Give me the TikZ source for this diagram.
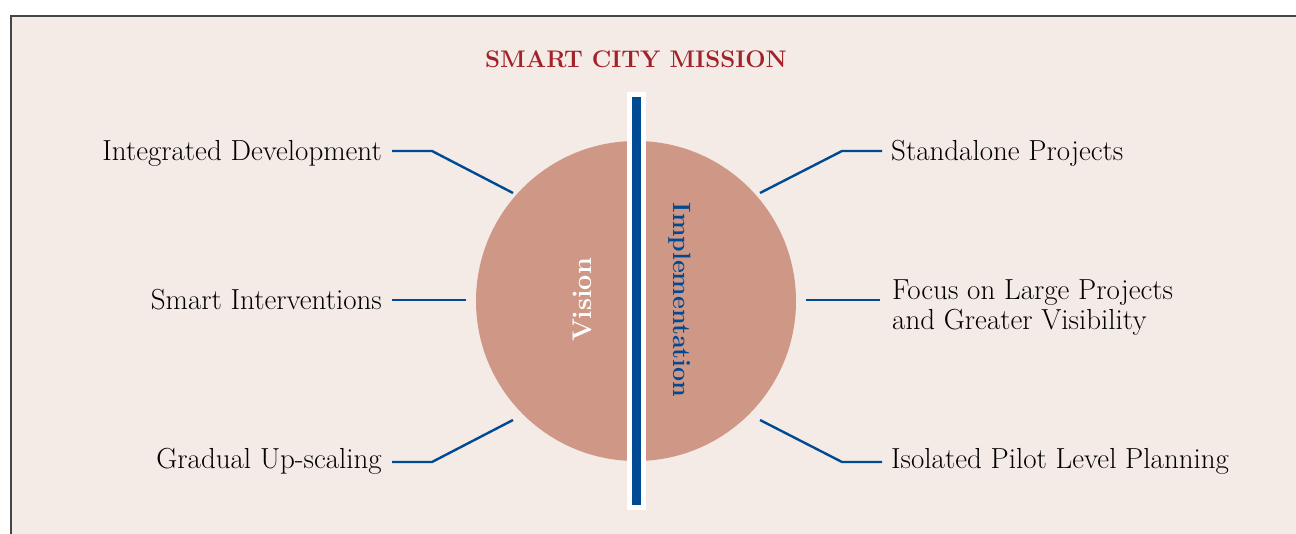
\documentclass[tikz,border=0pt]{standalone}
\usepackage{tikz}
\usetikzlibrary{positioning}

\definecolor{paper}{HTML}{F4EBE6}
\definecolor{discfill}{HTML}{CF9886}
\definecolor{navy}{HTML}{004A94}
\definecolor{brick}{HTML}{A32129}
\definecolor{framegray}{HTML}{454545}

\begin{document}
\begin{tikzpicture}
	[x=1pt,y=-1pt,node distance=10pt,
		label node/.style={inner sep=0pt,font=\fontsize{29}{30}\selectfont},
		one line/.style={text height=20pt,text depth=0pt},
		link/.style={navy,line width=2.4pt,line join=miter},
		side text/.style={inner sep=0pt,font=\bfseries\fontsize{25}{28}\selectfont}]

	\useasboundingbox (0,0) rectangle (1296,534);
	\fill[paper] (11,16) rectangle (1296,534);
	\draw[framegray,line width=2pt] (11,540) -- (11,16) -- (1300,16);

	\node[brick,font=\bfseries\fontsize{24}{27}\selectfont] (title) at (636,59) {SMART CITY MISSION};

	% disc and divider
	\node[circle,fill=discfill,minimum size=320pt,inner sep=0pt] (disc) at (636,301) {};
	\fill[white] (627,92) rectangle (646,510);
	\fill[navy] (632,97) rectangle (641,505);
	\node[side text,white,rotate=90,font=\bfseries\fontsize{27}{30}\selectfont] (vision) at (582,300) {Vision};
	\node[side text,navy,rotate=-90] (impl) at (680,300) {Implementation};

	% connector points
	\coordinate (l1) at (392,151);
	\coordinate (l1b) at (432,151);
	\coordinate (l1c) at (513,193);
	\coordinate (l2) at (392,300);
	\coordinate (l2c) at (466,300);
	\coordinate (l3) at (392,462);
	\coordinate (l3b) at (432,462);
	\coordinate (l3c) at (513,420);
	\coordinate (r1) at (882,151);
	\coordinate (r1b) at (842,151);
	\coordinate (r1c) at (760,193);
	\coordinate (r2) at (880,300);
	\coordinate (r2c) at (806,300);
	\coordinate (r3) at (882,462);
	\coordinate (r3b) at (842,462);
	\coordinate (r3c) at (760,420);

	\node[label node,one line,left=of l1] (intdev) {Integrated Development};
	\node[label node,one line,left=of l2] (smart) {Smart Interventions};
	\node[label node,one line,left=of l3,yshift=3.5pt] (gradual) {Gradual Up-scaling};
	\node[label node,one line,right=9pt of r1] (alone) {Standalone Projects};
	\node[label node,align=left,right=12pt of r2,yshift=-7.8pt] (focus) {Focus on Large Projects\\and Greater Visibility};
	\node[label node,one line,right=9pt of r3,yshift=3.5pt] (pilot) {Isolated Pilot Level Planning};

	\draw[link] (l1) -- (l1b) -- (l1c);
	\draw[link] (l2) -- (l2c);
	\draw[link] (l3) -- (l3b) -- (l3c);
	\draw[link] (r1) -- (r1b) -- (r1c);
	\draw[link] (r2) -- (r2c);
	\draw[link] (r3) -- (r3b) -- (r3c);

\end{tikzpicture}
\end{document}
